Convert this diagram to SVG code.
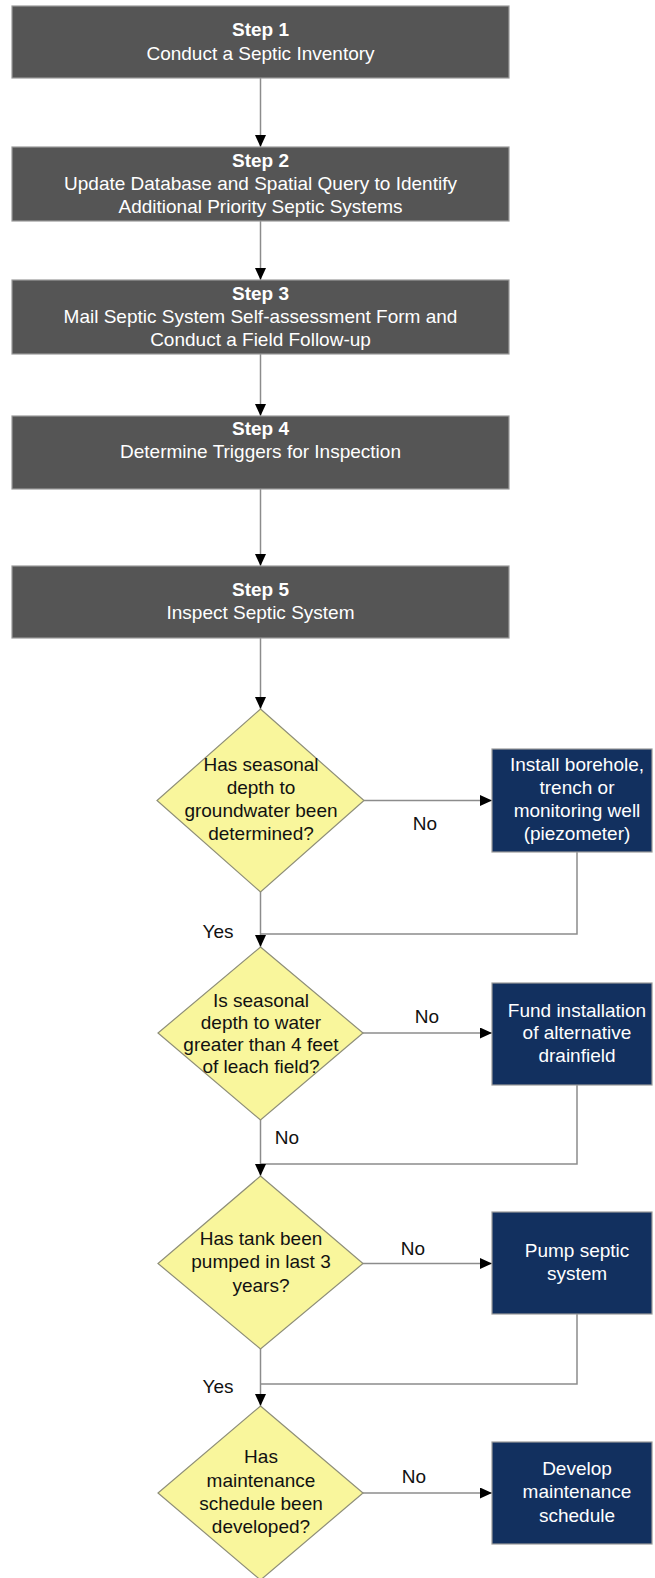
<svg xmlns="http://www.w3.org/2000/svg" width="655" height="1578" viewBox="0 0 655 1578">
<style>
.step{fill:#555555;stroke:#9a9a9a;stroke-width:1.2}
.act{fill:#12305f;stroke:#9a9a9a;stroke-width:1.2}
.dec{fill:#f9f69c;stroke:#8e8e78;stroke-width:1.2}
.wt{font-family:"Liberation Sans",Arial,sans-serif;font-size:19px;fill:#ffffff;text-anchor:middle}
.wb{font-weight:bold}
.bt{font-family:"Liberation Sans",Arial,sans-serif;font-size:19px;fill:#111111;text-anchor:middle}
.ln{fill:none;stroke:#8c8c8c;stroke-width:1.5}
</style>
<defs>
<marker id="ah" markerUnits="userSpaceOnUse" markerWidth="12" markerHeight="11" refX="12" refY="5.5" orient="auto">
<path d="M0,0 L12,5.5 L0,11 z" fill="#000"/>
</marker>
</defs>
<g id="connectors">
<line class="ln" x1="260.5" y1="78" x2="260.5" y2="147" marker-end="url(#ah)"/>
<line class="ln" x1="260.5" y1="221" x2="260.5" y2="280" marker-end="url(#ah)"/>
<line class="ln" x1="260.5" y1="354" x2="260.5" y2="416" marker-end="url(#ah)"/>
<line class="ln" x1="260.5" y1="489" x2="260.5" y2="566" marker-end="url(#ah)"/>
<line class="ln" x1="260.5" y1="638" x2="260.5" y2="709" marker-end="url(#ah)"/>
<line class="ln" x1="364" y1="800.5" x2="492" y2="800.5" marker-end="url(#ah)"/>
<polyline class="ln" points="577,852 577,934 260.5,934"/>
<line class="ln" x1="260.5" y1="892" x2="260.5" y2="947" marker-end="url(#ah)"/>
<line class="ln" x1="363" y1="1033" x2="492" y2="1033" marker-end="url(#ah)"/>
<polyline class="ln" points="577,1085 577,1164 260.5,1164"/>
<line class="ln" x1="260.5" y1="1120" x2="260.5" y2="1176" marker-end="url(#ah)"/>
<line class="ln" x1="363" y1="1263.5" x2="492" y2="1263.5" marker-end="url(#ah)"/>
<polyline class="ln" points="577,1314 577,1384 260.5,1384"/>
<line class="ln" x1="260.5" y1="1349" x2="260.5" y2="1406" marker-end="url(#ah)"/>
<line class="ln" x1="363" y1="1493" x2="492" y2="1493" marker-end="url(#ah)"/>
<text class="bt" x="425" y="830">No</text>
<text class="bt" x="218" y="938">Yes</text>
<text class="bt" x="427" y="1023">No</text>
<text class="bt" x="287" y="1144">No</text>
<text class="bt" x="413" y="1255">No</text>
<text class="bt" x="218" y="1393">Yes</text>
<text class="bt" x="414" y="1483">No</text>
</g>
<g id="step1">
<rect class="step" x="12" y="6" width="497" height="72"/>
<text class="wt wb" x="260.5" y="36">Step 1</text>
<text class="wt" x="260.5" y="60">Conduct a Septic Inventory</text>
</g>
<g id="step2">
<rect class="step" x="12" y="147" width="497" height="74"/>
<text class="wt wb" x="260.5" y="167">Step 2</text>
<text class="wt" x="260.5" y="190">Update Database and Spatial Query to Identify</text>
<text class="wt" x="260.5" y="213">Additional Priority Septic Systems</text>
</g>
<g id="step3">
<rect class="step" x="12" y="280" width="497" height="74"/>
<text class="wt wb" x="260.5" y="300">Step 3</text>
<text class="wt" x="260.5" y="323">Mail Septic System Self-assessment Form and</text>
<text class="wt" x="260.5" y="346">Conduct a Field Follow-up</text>
</g>
<g id="step4">
<rect class="step" x="12" y="416" width="497" height="73"/>
<text class="wt wb" x="260.5" y="435">Step 4</text>
<text class="wt" x="260.5" y="458">Determine Triggers for Inspection</text>
</g>
<g id="step5">
<rect class="step" x="12" y="566" width="497" height="72"/>
<text class="wt wb" x="260.5" y="596">Step 5</text>
<text class="wt" x="260.5" y="619">Inspect Septic System</text>
</g>
<g id="decision1">
<polygon class="dec" points="260.5,709 364,800.5 260.5,892 157,800.5"/>
<text class="bt" x="261" y="771">Has seasonal</text>
<text class="bt" x="261" y="794">depth to</text>
<text class="bt" x="261" y="817">groundwater been</text>
<text class="bt" x="261" y="840">determined?</text>
</g>
<g id="action1">
<rect class="act" x="492" y="749" width="160" height="103"/>
<text class="wt" x="577" y="771">Install borehole,</text>
<text class="wt" x="577" y="794">trench or</text>
<text class="wt" x="577" y="817">monitoring well</text>
<text class="wt" x="577" y="840">(piezometer)</text>
</g>
<g id="decision2">
<polygon class="dec" points="260.5,947 363,1033 260.5,1120 158,1033"/>
<text class="bt" x="261" y="1007">Is seasonal</text>
<text class="bt" x="261" y="1029">depth to water</text>
<text class="bt" x="261" y="1051">greater than 4 feet</text>
<text class="bt" x="261" y="1073">of leach field?</text>
</g>
<g id="action2">
<rect class="act" x="492" y="983" width="160" height="102"/>
<text class="wt" x="577" y="1017">Fund installation</text>
<text class="wt" x="577" y="1039">of alternative</text>
<text class="wt" x="577" y="1062">drainfield</text>
</g>
<g id="decision3">
<polygon class="dec" points="260.5,1176 363,1263.5 260.5,1349 158,1263.5"/>
<text class="bt" x="261" y="1245">Has tank been</text>
<text class="bt" x="261" y="1268">pumped in last 3</text>
<text class="bt" x="261" y="1292">years?</text>
</g>
<g id="action3">
<rect class="act" x="492" y="1212" width="160" height="102"/>
<text class="wt" x="577" y="1257">Pump septic</text>
<text class="wt" x="577" y="1280">system</text>
</g>
<g id="decision4">
<polygon class="dec" points="260.5,1406 363,1493 260.5,1580 158,1493"/>
<text class="bt" x="261" y="1463">Has</text>
<text class="bt" x="261" y="1487">maintenance</text>
<text class="bt" x="261" y="1510">schedule been</text>
<text class="bt" x="261" y="1533">developed?</text>
</g>
<g id="action4">
<rect class="act" x="492" y="1442" width="160" height="102"/>
<text class="wt" x="577" y="1475">Develop</text>
<text class="wt" x="577" y="1498">maintenance</text>
<text class="wt" x="577" y="1522">schedule</text>
</g>
</svg>
